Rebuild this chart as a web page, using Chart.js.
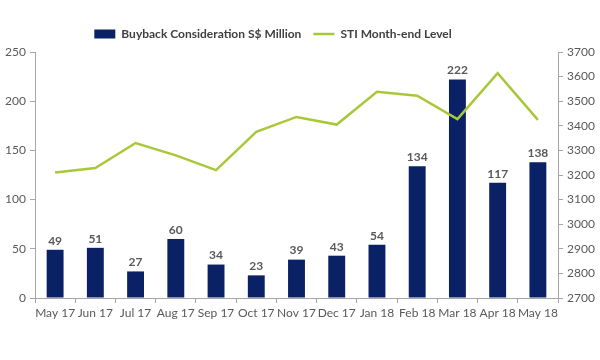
<!DOCTYPE html>
<html>
<head>
<meta charset="utf-8">
<script src="https://cdn.jsdelivr.net/npm/chart.js@4"></script>
<style>
html,body{margin:0;padding:0;background:#fff;}
#wrap{width:600px;height:360px;}
</style>
</head>
<body>
<div id="wrap"><canvas id="c" width="600" height="360"></canvas></div>
<script>
const categories = ["May 17","Jun 17","Jul 17","Aug 17","Sep 17","Oct 17","Nov 17","Dec 17","Jan 18","Feb 18","Mar 18","Apr 18","May 18"];
const buyback = [49,51,27,60,34,23,39,43,54,134,222,117,138];
const sti = [3210,3228,3330,3280,3220,3375,3436,3405,3538,3522,3427,3614,3424];
const leftTicks = [0,50,100,150,200,250];
const rightTicks = [2700,2800,2900,3000,3100,3200,3300,3400,3500,3600,3700];

const TXT = '#595959';
const AX = '#a6a6a6';
const FONT = 'Lato, "Open Sans", sans-serif';

const barLabels = {
  id:'barLabels',
  afterDatasetsDraw(chart){
    const ctx = chart.ctx;
    const meta = chart.getDatasetMeta(1);
    ctx.save();
    ctx.font = 'bold 12px ' + FONT;
    ctx.fillStyle = TXT;
    ctx.textAlign = 'center';
    ctx.textBaseline = 'bottom';
    meta.data.forEach((el,i)=>{
      ctx.fillText(String(buyback[i]), el.x, el.y - 3);
    });
    ctx.restore();
  }
};

const legendShift = {
  id:'legendShift',
  afterLayout(chart){
    const lg = chart.legend;
    if(!lg) return;
    lg.left -= 27; lg.right -= 27;
    lg.top -= 2; lg.bottom -= 2;
  }
};

new Chart(document.getElementById('c'), {
  data: {
    labels: categories,
    datasets: [
      {
        type:'line', label:'STI Month-end Level', data: sti, yAxisID:'y1',
        borderColor:'#a8c83a', backgroundColor:'#a8c83a', borderWidth:2.5,
        pointRadius:0, tension:0, pointStyle:'line', order:0
      },
      {
        type:'bar', label:'Buyback Consideration S$ Million', data: buyback, yAxisID:'y',
        backgroundColor:'#0b2165', borderWidth:0, barPercentage:0.42, categoryPercentage:1,
        pointStyle:'rect', order:1
      }
    ]
  },
  options: {
    responsive:false, animation:false,
    layout:{padding:{top:18,left:0,right:0,bottom:0}},
    plugins:{
      tooltip:{enabled:false},
      legend:{
        position:'top', align:'center',
        reverse:true,
        labels:{
          usePointStyle:true, pointStyleWidth:21, boxHeight:9,
          color:'#404040', font:{family:FONT, size:12, weight:'bold'}, padding:12
        }
      }
    },
    scales:{
      x:{
        offset:true,
        grid:{display:true, offset:true, drawOnChartArea:false, drawTicks:true, tickLength:5, color:AX},
        border:{color:AX},
        ticks:{color:TXT, font:{family:FONT, size:12}, maxRotation:0, autoSkip:false, padding:3},
        afterFit(s){ s.height = 62; }
      },
      y:{
        position:'left', min:0, max:250,
        afterBuildTicks(s){ s.ticks = leftTicks.map(v=>({value:v})); },
        grid:{drawOnChartArea:false, drawTicks:true, tickLength:5, color:AX},
        border:{color:AX},
        ticks:{color:TXT, font:{family:FONT, size:12}, padding:4, callback:v=>String(v)},
        afterFit(s){ s.width = 35; }
      },
      y1:{
        position:'right', min:2700, max:3700,
        afterBuildTicks(s){ s.ticks = rightTicks.map(v=>({value:v})); },
        grid:{drawOnChartArea:false, drawTicks:true, tickLength:5, color:AX},
        border:{color:AX},
        ticks:{color:TXT, font:{family:FONT, size:12}, padding:4, callback:v=>String(v)},
        afterFit(s){ s.width = 42; }
      }
    }
  },
  plugins:[barLabels, legendShift]
});
</script>
</body>
</html>
